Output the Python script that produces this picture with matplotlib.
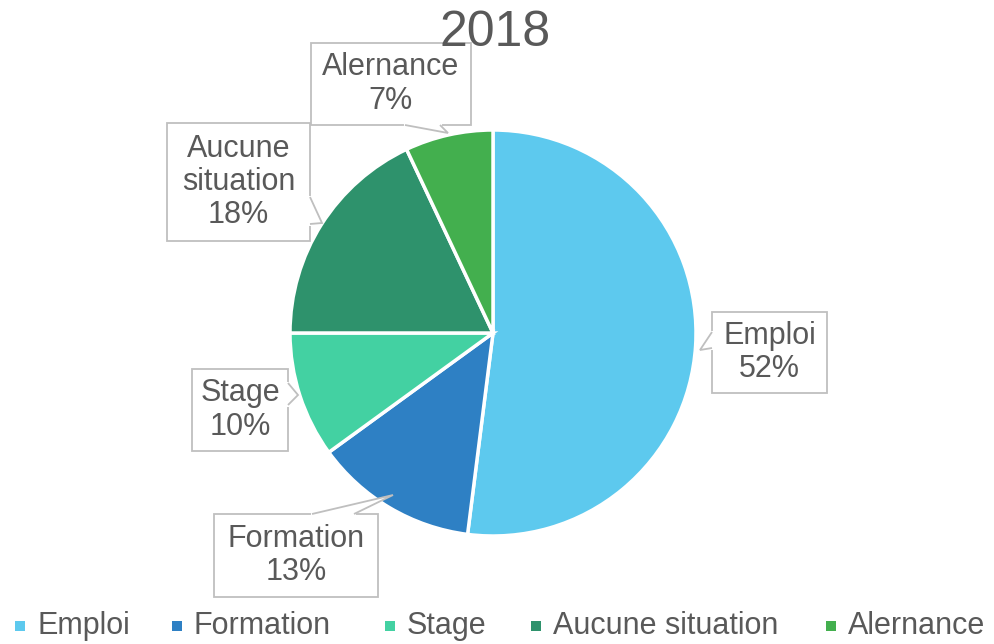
import matplotlib.pyplot as plt
from matplotlib.patches import Polygon, Rectangle

# data
categories = ['Emploi', 'Formation', 'Stage', 'Aucune situation', 'Alernance']
box_labels = ['Emploi', 'Formation', 'Stage', 'Aucune\nsituation', 'Alernance']
shares = [52, 13, 10, 18, 7]
colors = ['#5DC9EE', '#2E80C4', '#43D1A2', '#2E926C', '#43AF4E']
title = '2018'

TEXT_COLOR = '#595959'
BOX_EDGE = '#BFBFBF'
W, H = 994, 644

# callout boxes in pixel coords (left, top, right, bottom) and pointer (a, tip, b)
CALLOUTS = {
    'Emploi': ((712, 312, 827, 393), [(712, 332), (700, 350), (712, 348)]),
    'Formation': ((214, 514, 378, 597), [(312, 514), (393, 495), (354, 514)]),
    'Stage': ((192, 369, 288, 451), [(288, 383), (298, 395), (288, 405)]),
    'Aucune situation': ((167, 123, 310, 241), [(310, 197), (322, 223), (310, 224)]),
    'Alernance': ((311, 43, 471, 125), [(405, 125), (448, 133), (440, 125)]),
}
LEGEND_X = [15, 172, 385, 531, 826]


def py(y):
    return H - y


fig = plt.figure(figsize=(W / 100, H / 100), dpi=100)
ax = fig.add_axes([0, 0, 1, 1])

wedges, _ = ax.pie(shares, colors=colors, startangle=90, counterclock=False,
                   center=(493, py(333)), radius=203,
                   wedgeprops=dict(edgecolor='white', linewidth=2.5))
ax.set_xlim(0, W)
ax.set_ylim(0, H)
ax.set_aspect('equal')
ax.axis('off')

ax.text(495, py(33), title, ha='center', va='center', fontsize=36,
        family='Liberation Sans', color=TEXT_COLOR, zorder=10)

for cat, lab, val in zip(categories, box_labels, shares):
    (l, t, r, b), ptr = CALLOUTS[cat]
    pts = [(x, py(y)) for x, y in ptr]
    ax.add_patch(Rectangle((l, py(b)), r - l, b - t, facecolor='white',
                           edgecolor=BOX_EDGE, linewidth=1.3, zorder=3))
    ax.add_patch(Polygon(pts, closed=True, facecolor='white',
                         edgecolor='none', zorder=4))
    ax.plot([pts[0][0], pts[2][0]], [pts[0][1], pts[2][1]], color='white',
            linewidth=2.2, zorder=4)
    ax.add_patch(Polygon(pts, closed=False, facecolor='none',
                         edgecolor=BOX_EDGE, linewidth=1.3, zorder=5))
    ax.text((l + r) / 2, py((t + b) / 2), f'{lab}\n{val}%', ha='center',
            va='center', fontsize=22, family='Liberation Sans',
            color=TEXT_COLOR, linespacing=1.15, zorder=6)

for x, cat, c in zip(LEGEND_X, categories, colors):
    ax.add_patch(Rectangle((x, py(631)), 10, 10, facecolor=c, edgecolor='none'))
    ax.text(x + 22, py(626), cat, ha='left', va='center', fontsize=22,
            family='Liberation Sans', color=TEXT_COLOR)

fig.savefig('out.png', dpi=100)
